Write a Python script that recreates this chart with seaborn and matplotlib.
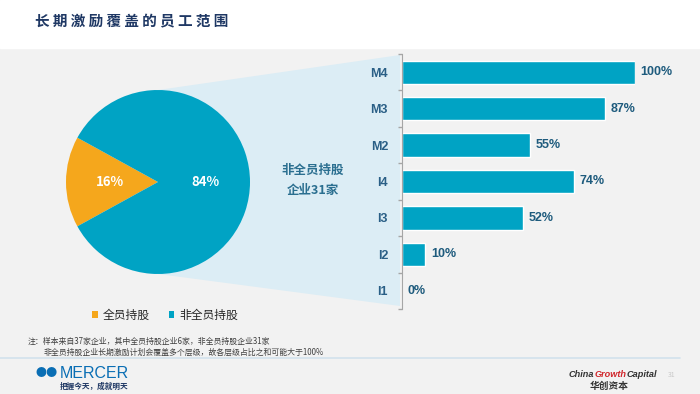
import matplotlib
matplotlib.use('Agg')
import matplotlib.pyplot as plt
from matplotlib.patches import Polygon, Rectangle
import seaborn as sns
import pandas as pd

# data
pie_labels = ['全员持股', '非全员持股']
pie_values = [16, 84]
levels = ['M4', 'M3', 'M2', 'I4', 'I3', 'I2', 'I1']
coverage = [100, 87, 55, 74, 52, 10, 0]

TEAL = '#00a3c4'
ORANGE = '#f5a71c'
NAVY = '#1f3864'
LABEL_BLUE = '#2a5f86'

sns.set_theme(style='white')
plt.rcParams['font.family'] = ['Noto Sans CJK SC', 'DejaVu Sans']

W, H = 700, 394
fig = plt.figure(figsize=(7, 3.94), dpi=100, facecolor='#f2f2f2')


def px(x, y, w, h):
    # pixel box (left, top, width, height) -> figure fraction
    return [x / W, 1 - (y + h) / H, w / W, h / H]


# background / decoration layer in pixel coords
bg = fig.add_axes([0, 0, 1, 1])
bg.set_xlim(0, W)
bg.set_ylim(H, 0)
bg.axis('off')
bg.add_patch(Rectangle((0, 0), W, 48, color='white', zorder=0))
bg.add_patch(Polygon([(158, 90), (400, 55), (400, 306), (158, 274)],
                     closed=True, color='#dcedf5', zorder=1, lw=0))
bg.plot([0, 680], [358, 358], color='#d2e2ec', lw=1.2, zorder=1)

bg.text(35, 20, ' '.join('长期激励覆盖的员工范围'), fontsize=10.5, fontweight='bold',
        color=NAVY, va='center', ha='left')
bg.text(313, 180, '非全员持股\n企业31家', fontsize=9, fontweight='bold',
        color='#2b6f90', va='center', ha='center', linespacing=1.7)

bg.text(28, 341, '注：样本来自37家企业，其中全员持股企业6家，非全员持股企业31家',
        fontsize=5.7, color='#404040', va='center')
bg.text(44, 352, '非全员持股企业长期激励计划会覆盖多个层级，故各层级占比之和可能大于100%',
        fontsize=5.7, color='#404040', va='center')

# footer logos
bg.text(35, 373, '●●', fontsize=8, color='#0a6eb4', va='center', ha='left')
bg.text(60, 373, 'MERCER', fontsize=11.5, color='#0a6eb4', va='center', ha='left',
        family=['Liberation Sans', 'DejaVu Sans'])
bg.text(60, 386, '把握今天，成就明天', fontsize=5.5, fontweight='bold',
        color='#1f3864', va='center', ha='left')
logo_font = dict(fontsize=6.6, fontweight='bold', style='italic',
                 family=['Liberation Sans', 'DejaVu Sans'], va='bottom')
t1 = bg.text(569, 379, 'China', color='#333333', ha='left', **logo_font)
t2 = bg.annotate('Growth', xy=(1, 0), xycoords=t1, color='#d0262b', ha='left', **logo_font)
bg.annotate('Capital', xy=(1, 0), xycoords=t2, color='#333333', ha='left', **logo_font)
bg.text(609, 386, '华创资本', fontsize=7, fontweight='bold', color='#333333',
        va='center', ha='center')
bg.text(672, 375, '31', fontsize=5, color='#c8c8c8', va='center', ha='center')

# pie
pax = fig.add_axes(px(66, 90, 184, 184))
wedges, _, autotexts = pax.pie(pie_values, colors=[ORANGE, TEAL],
                               startangle=180 - pie_values[0] * 3.6 / 2,
                               autopct='%d%%', pctdistance=0.52,
                               wedgeprops=dict(linewidth=0))
for t in autotexts:
    t.set_color('white')
    t.set_fontweight('bold')
    t.set_fontsize(9.5)
pax.set_xlim(-1, 1)
pax.set_ylim(-1, 1)
pax.set_aspect('equal')

fig.legend(wedges, pie_labels, loc='center', bbox_to_anchor=(165 / W, 1 - 315 / H),
           ncol=2, frameon=False, handlelength=0.5, handleheight=0.5,
           handletextpad=0.4, columnspacing=1.6, prop={'size': 8.5})

# bars
df = pd.DataFrame({'level': levels, 'coverage': coverage})
bax = fig.add_axes(px(402, 54, 233, 255))
bax.set_facecolor('#f2f2f2')
sns.barplot(data=df, x='coverage', y='level', orient='h', color=TEAL,
            width=0.64, saturation=1, ax=bax)
bax.set_xlim(0, 100)
bax.set_ylim(len(levels) - 0.5, -0.5)
bax.bar_label(bax.containers[0], labels=[f'{v}%' for v in coverage], padding=4,
              fontsize=9, fontweight='bold', color='#1e5b7d',
              family=['Liberation Sans', 'DejaVu Sans'])
bax.set_xlabel('')
bax.set_ylabel('')
bax.set_xticks([])
for s in ['top', 'right', 'bottom']:
    bax.spines[s].set_visible(False)
bax.spines['left'].set_color('#a6a6a6')
bax.spines['left'].set_linewidth(0.8)
bax.set_yticks([i + 0.5 for i in range(-1, len(levels))], minor=True)
bax.tick_params(axis='y', which='major', length=0, pad=10)
bax.tick_params(axis='y', which='minor', length=3, color='#a6a6a6', left=True)
for lab in bax.get_yticklabels():
    lab.set_fontweight('bold')
    lab.set_fontsize(9)
    lab.set_color(LABEL_BLUE)
    lab.set_family(['Liberation Sans', 'DejaVu Sans'])

fig.savefig('out.png', dpi=100, facecolor=fig.get_facecolor())
